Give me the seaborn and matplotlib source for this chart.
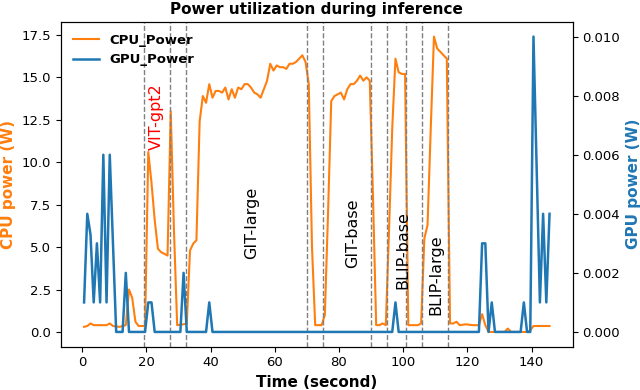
import numpy as np
import pandas as pd
import matplotlib
matplotlib.use("Agg")
import matplotlib.pyplot as plt
import seaborn as sns

# CPU power samples (time in s, watts)
cpu_t = [0.6, 1.6, 2.6, 3.6, 5.6, 7.6, 8.6, 9.6, 11.6, 13.6, 14.6, 15.6, 16.6, 17.6, 19.6,
         20.6, 21.6, 22.6, 23.6, 24.6, 25.6, 26.6, 27.6, 28.6, 29.6, 31.6, 32.6, 33.6, 34.6,
         35.6, 36.6, 37.6, 38.6, 39.6, 40.6, 41.6, 42.6, 43.6, 44.6, 45.6, 46.6, 47.6, 48.6,
         49.6, 50.6, 51.6, 52.6, 53.6, 54.6, 55.6, 56.6, 57.6, 58.6, 59.6, 60.6, 61.6, 62.6,
         63.6, 64.6, 65.6, 66.6, 67.6, 68.6, 69.6, 70.6, 71.6, 72.6, 74.6, 75.6, 76.6, 77.6,
         78.6, 79.6, 80.6, 81.6, 82.6, 83.6, 84.6, 85.6, 86.6, 87.6, 88.6, 89.6, 90.6, 91.6,
         92.6, 93.6, 94.6, 95.6, 96.6, 97.6, 98.6, 99.6, 100.6, 101.6, 102.6, 104.6, 105.6,
         106.6, 107.6, 108.6, 109.6, 110.6, 111.6, 112.6, 113.6, 114.6, 115.6, 116.6, 117.6,
         119.6, 121.6, 123.6, 124.6, 125.6, 126.6, 131.6, 132.6, 133.6, 138.6, 139.6, 140.6,
         145.6]
cpu_w = [0.3, 0.35, 0.5, 0.4, 0.4, 0.4, 0.5, 0.35, 0.3, 0.4, 2.5, 2.0, 0.6, 0.35, 0.35,
         10.6, 8.8, 6.6, 4.9, 4.7, 4.6, 4.5, 13.0, 6.0, 0.4, 0.45, 0.5, 4.8, 5.2,
         5.4, 12.4, 13.9, 13.5, 14.6, 13.8, 14.2, 14.2, 14.1, 14.4, 13.7, 14.3, 13.8, 14.4,
         14.3, 14.6, 14.6, 14.4, 14.1, 14.0, 13.8, 14.3, 14.8, 15.8, 15.4, 15.7, 15.6, 15.6,
         15.5, 15.8, 15.8, 15.9, 16.1, 16.3, 15.9, 14.6, 5.0, 0.4, 0.4, 1.0, 7.0, 13.6,
         13.9, 14.0, 14.1, 13.7, 14.3, 14.6, 14.6, 14.8, 15.1, 14.8, 15.0, 14.8, 8.0, 0.4,
         0.4, 0.5, 0.4, 6.0, 12.0, 16.1, 15.3, 15.2, 15.2, 0.4, 0.4, 0.4, 0.5,
         5.5, 6.3, 12.0, 17.4, 16.7, 16.5, 16.3, 16.1, 0.5, 0.5, 0.6, 0.4,
         0.45, 0.4, 0.4, 1.05, 0.4, 0.0, 0.0, 0.2, 0.0, 0.0, 0.1, 0.35,
         0.35]

# GPU power samples (time in s, watts)
gpu_t = [0.6, 1.6, 2.6, 3.6, 4.6, 5.6, 6.6, 7.6, 8.6, 10.6, 12.6, 13.6, 14.6, 19.6, 20.6,
         21.6, 22.6, 30.6, 31.6, 32.6, 38.6, 39.6, 40.6, 96.6, 97.6, 98.6, 123.6, 124.6,
         125.6, 126.6, 127.6, 128.6, 136.6, 137.6, 138.6, 139.6, 140.6, 142.6, 143.6, 144.6,
         145.6]
gpu_w = [0.001, 0.004, 0.0033, 0.001, 0.003, 0.001, 0.006, 0.001, 0.006, 0.0, 0.0, 0.002,
         0.0, 0.0, 0.001, 0.001, 0.0, 0.0, 0.002, 0.0, 0.0, 0.001, 0.0, 0.0, 0.001, 0.0,
         0.0, 0.003, 0.003, 0.0, 0.001, 0.0, 0.0, 0.001, 0.0, 0.0, 0.010, 0.001, 0.004,
         0.001, 0.004]

# model boundaries and labels
bounds = [19.4, 27.5, 32.4, 70.2, 75, 90, 95, 101, 106, 114]
models = ["VIT-gpt2", "GIT-large", "GIT-base", "BLIP-base", "BLIP-large"]
label_t = [23.2, 52.8, 84.4, 99.8, 110.3]
label_w = [12.7, 6.4, 5.8, 4.85, 3.35]
label_c = ["red", "black", "black", "black", "black"]

cpu = pd.DataFrame({"t": cpu_t, "w": cpu_w})
gpu = pd.DataFrame({"t": gpu_t, "w": gpu_w})

cpu_color = "#ff7f0e"
gpu_color = "#1f77b4"

fig, ax1 = plt.subplots(figsize=(6.4, 3.9), dpi=100)
fig.subplots_adjust(left=0.095, right=0.895, bottom=0.111, top=0.944)
ax2 = ax1.twinx()

sns.lineplot(data=cpu, x="t", y="w", ax=ax1, color=cpu_color, lw=1.5, label="CPU_Power", legend=False)
sns.lineplot(data=gpu, x="t", y="w", ax=ax2, color=gpu_color, lw=1.8, label="GPU_Power", legend=False)

for b in bounds:
    ax1.axvline(b, color="gray", ls="--", lw=1)

for name, tx, wy, c in zip(models, label_t, label_w, label_c):
    ax1.text(tx, wy, name, rotation=90, color=c, fontsize=11.5, ha="center", va="center")

ax1.set_yticks([0, 2.5, 5, 7.5, 10, 12.5, 15, 17.5])
ax1.set_xticks(range(0, 141, 20))
ax2.set_yticks([0, 0.002, 0.004, 0.006, 0.008, 0.010])
ax2.set_yticklabels(["0.000", "0.002", "0.004", "0.006", "0.008", "0.010"])
ax1.tick_params(labelsize=9.5)
ax2.tick_params(labelsize=9.5)

ax1.set_xlabel("Time (second)", fontsize=11, fontweight="bold")
ax1.set_ylabel("CPU power (W)", fontsize=11, fontweight="bold", color=cpu_color)
ax2.set_ylabel("GPU power (W)", fontsize=11, fontweight="bold", color=gpu_color)
ax1.set_title("Power utilization during inference", fontsize=11, fontweight="bold")

h1, l1 = ax1.get_legend_handles_labels()
h2, l2 = ax2.get_legend_handles_labels()
ax2.legend(h1 + h2, l1 + l2, loc="upper left", frameon=False, prop={"weight": "bold", "size": 9.5})

fig.savefig("out.png")
